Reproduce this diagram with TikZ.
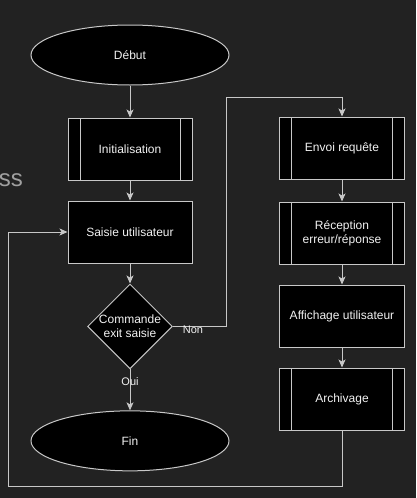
\documentclass[tikz,border=0pt]{standalone}
\usepackage{fontspec}
\setmainfont{Liberation Sans}
\usetikzlibrary{shapes.geometric,arrows.meta,positioning}
\definecolor{bgdark}{HTML}{222222}
\definecolor{linec}{HTML}{C8C8C8}
\definecolor{txtc}{HTML}{F2F2F2}

\begin{document}
\begin{tikzpicture}[
            x=1pt, y=-1pt,
            node distance=20pt,
            every node/.style={font=\fontsize{12}{14}\selectfont, text=txtc},
            term/.style={draw=linec, line width=1pt, fill=black, ellipse, minimum width=198pt, minimum height=60pt, inner sep=0pt},
            proc/.style={draw=linec, line width=1pt, fill=black, rectangle, minimum width=124pt, minimum height=62pt, inner sep=0pt, align=center},
            subproc/.style={proc, path picture={
                \draw[linec, line width=1pt] ([xshift=12pt]path picture bounding box.north west) -- ([xshift=12pt]path picture bounding box.south west);
                \draw[linec, line width=1pt] ([xshift=-12pt]path picture bounding box.north east) -- ([xshift=-12pt]path picture bounding box.south east);}},
            choice/.style={draw=linec, line width=1pt, fill=black, diamond, minimum width=83pt, minimum height=83pt, inner sep=0pt, align=center},
            link/.style={draw=linec, line width=1pt, -{Stealth[length=8pt, width=7pt, inset=2pt]}},
            lbl/.style={font=\fontsize{11}{13}\selectfont}
        ]
            \useasboundingbox (0,0) rectangle (416,498);
            \fill[bgdark] (0,0) rectangle (416,498);
            \node[anchor=base east, inner sep=0pt, text=linec!80!black, font=\fontsize{24}{26}\selectfont] (cut) at (23,186) {ss};

            \node[term] (debut) at (130,55) {Début};
            \node[subproc, below=32pt of debut] (init) {Initialisation};
            \node[proc, below=of init] (saisie) {Saisie utilisateur};
            \node[choice, below=of saisie] (cmd) {Commande\\exit saisie};
            \node[term, below=41pt of cmd] (fin) {Fin};

            \node[subproc, minimum width=125pt] (envoi) at (342,148) {Envoi requête};
            \node[subproc, minimum width=125pt, below=22pt of envoi] (recep) {Réception\\erreur/réponse};
            \node[proc, minimum width=125pt, below=of recep] (affich) {Affichage utilisateur};
            \node[subproc, minimum width=125pt, below=of affich] (archiv) {Archivage};

            \coordinate (nonup) at (226,97);
            \coordinate (loop) at (8,486);

            \draw[link] (debut) -- (init);
            \draw[link] (init) -- (saisie);
            \draw[link] (saisie) -- (cmd);
            \draw[link] (cmd) -- (fin);
            \draw[link] (cmd.east) -| (nonup) -| (envoi.north);
            \draw[link] (envoi) -- (recep);
            \draw[link] (recep) -- (affich);
            \draw[link] (affich) -- (archiv);
            \draw[link] (archiv.south) |- (loop) |- (saisie.west);

            \node[lbl] (non) at (193,330) {Non};
            \node[lbl] (oui) at (130,382) {Oui};
        \end{tikzpicture}
\end{document}
